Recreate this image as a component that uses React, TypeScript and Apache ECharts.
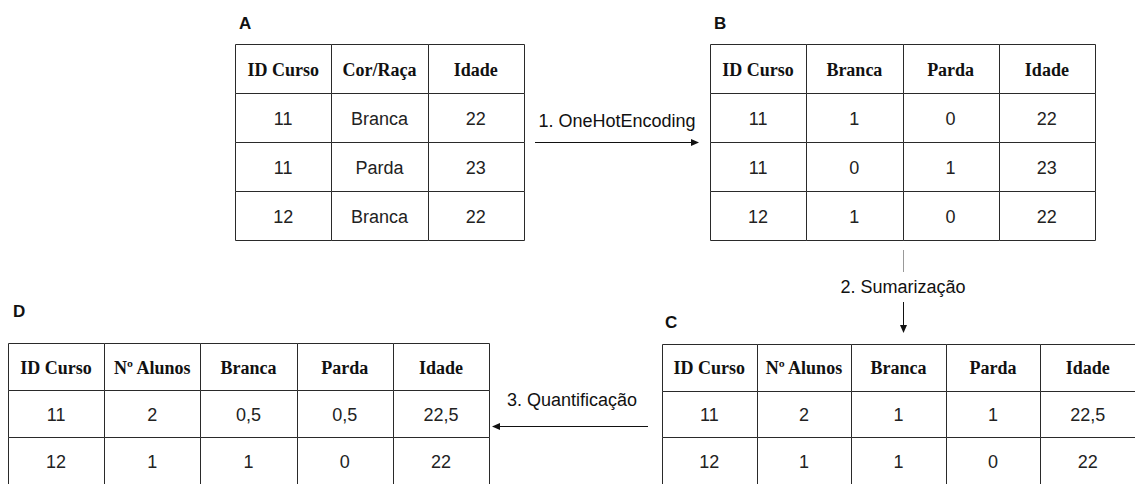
import React, { useEffect, useRef } from "react";
import * as echarts from "echarts";

// ---- data ----
const tableAHeaders = ["ID Curso", "Cor/Raça", "Idade"];
const tableARows = [
  ["11", "Branca", "22"],
  ["11", "Parda", "23"],
  ["12", "Branca", "22"],
];
const tableBHeaders = ["ID Curso", "Branca", "Parda", "Idade"];
const tableBRows = [
  ["11", "1", "0", "22"],
  ["11", "0", "1", "23"],
  ["12", "1", "0", "22"],
];
const tableCHeaders = ["ID Curso", "Nº Alunos", "Branca", "Parda", "Idade"];
const tableCRows = [
  ["11", "2", "1", "1", "22,5"],
  ["12", "1", "1", "0", "22"],
];
const tableDHeaders = ["ID Curso", "Nº Alunos", "Branca", "Parda", "Idade"];
const tableDRows = [
  ["11", "2", "0,5", "0,5", "22,5"],
  ["12", "1", "1", "0", "22"],
];
const tableLabels = ["A", "B", "C", "D"];
const stepLabels = ["1. OneHotEncoding", "2. Sumarização", "3. Quantificação"];

const SANS = "'Liberation Sans', Arial, sans-serif";
const SERIF = "'Liberation Serif', 'Times New Roman', serif";

type Cell = { value: [number, number]; text: string; header: boolean };

function buildCells(headers: string[], rows: string[][]): Cell[] {
  const cells: Cell[] = [];
  headers.forEach((h, c) => cells.push({ value: [c, 0], text: h, header: true }));
  rows.forEach((r, ri) =>
    r.forEach((t, c) => cells.push({ value: [c, ri + 1], text: t, header: false }))
  );
  return cells;
}

const tables = [
  { headers: tableAHeaders, rows: tableARows, grid: { left: 235, top: 44, width: 289, height: 196 } },
  { headers: tableBHeaders, rows: tableBRows, grid: { left: 710, top: 44, width: 385, height: 196 } },
  { headers: tableCHeaders, rows: tableCRows, grid: { left: 662, top: 344, width: 481, height: 144 } },
  { headers: tableDHeaders, rows: tableDRows, grid: { left: 8, top: 343, width: 481, height: 144 } },
];

export default function App() {
  const ref = useRef<HTMLDivElement>(null);
  useEffect(() => {
    if (!ref.current) return;
    const chart = echarts.init(ref.current, null, { renderer: "svg" });

    const grids: any[] = [];
    const xAxes: any[] = [];
    const yAxes: any[] = [];
    const series: any[] = [];

    tables.forEach((t, i) => {
      const cells = buildCells(t.headers, t.rows);
      grids.push({ ...t.grid, containLabel: false });
      xAxes.push({
        type: "value",
        gridIndex: i,
        min: -0.5,
        max: t.headers.length - 0.5,
        show: false,
      });
      yAxes.push({
        type: "value",
        gridIndex: i,
        min: -0.5,
        max: t.rows.length + 0.5,
        inverse: true,
        show: false,
      });
      series.push({
        type: "custom",
        xAxisIndex: i,
        yAxisIndex: i,
        clip: false,
        data: cells.map((c) => ({ value: c.value })),
        renderItem: (params: any, api: any) => {
          const cell = cells[params.dataIndex];
          const col = api.value(0);
          const row = api.value(1);
          const c = api.coord([col, row]);
          const tl = api.coord([col - 0.5, row - 0.5]);
          const br = api.coord([col + 0.5, row + 0.5]);
          const x0 = Math.round(tl[0]) + 0.5;
          const y0 = Math.round(tl[1]) + 0.5;
          const x1 = Math.round(br[0]) + 0.5;
          const y1 = Math.round(br[1]) + 0.5;
          return {
            type: "group",
            children: [
              {
                type: "rect",
                shape: { x: x0, y: y0, width: x1 - x0, height: y1 - y0 },
                style: { fill: "#ffffff", stroke: "#2a2a2a", lineWidth: 1 },
              },
              {
                type: "text",
                style: {
                  text: cell.text,
                  x: c[0],
                  y: c[1] + 1,
                  align: "center",
                  verticalAlign: "middle",
                  fill: cell.header ? "#111" : "#222",
                  font: cell.header ? `bold 18px ${SERIF}` : `18px ${SANS}`,
                },
              },
            ],
          };
        },
      });
    });

    const arrowColor = "#111";
    const labelFont = `bold 17px ${SANS}`;
    const stepFont = `18px ${SANS}`;
    const graphic: any[] = [
      // table labels
      { type: "text", x: 239, y: 23, style: { text: tableLabels[0], font: labelFont, fill: "#111", verticalAlign: "middle" } },
      { type: "text", x: 714, y: 23, style: { text: tableLabels[1], font: labelFont, fill: "#111", verticalAlign: "middle" } },
      { type: "text", x: 665, y: 322, style: { text: tableLabels[2], font: labelFont, fill: "#111", verticalAlign: "middle" } },
      { type: "text", x: 13, y: 311, style: { text: tableLabels[3], font: labelFont, fill: "#111", verticalAlign: "middle" } },
      // step 1
      { type: "text", x: 617, y: 121, style: { text: stepLabels[0], font: stepFont, fill: "#111", align: "center", verticalAlign: "middle" } },
      { type: "line", shape: { x1: 535, y1: 142.5, x2: 693, y2: 142.5 }, style: { stroke: arrowColor, lineWidth: 1 } },
      { type: "polygon", shape: { points: [[699, 142.5], [691, 139], [691, 146]] }, style: { fill: arrowColor } },
      // step 2
      { type: "line", shape: { x1: 903.5, y1: 250, x2: 903.5, y2: 272 }, style: { stroke: "#999", lineWidth: 1 } },
      { type: "text", x: 903, y: 287, style: { text: stepLabels[1], font: stepFont, fill: "#111", align: "center", verticalAlign: "middle" } },
      { type: "line", shape: { x1: 903.5, y1: 302, x2: 903.5, y2: 327 }, style: { stroke: arrowColor, lineWidth: 1 } },
      { type: "polygon", shape: { points: [[903.5, 333], [900, 325], [907, 325]] }, style: { fill: arrowColor } },
      // step 3
      { type: "text", x: 572, y: 400, style: { text: stepLabels[2], font: stepFont, fill: "#111", align: "center", verticalAlign: "middle" } },
      { type: "line", shape: { x1: 648, y1: 426.5, x2: 498, y2: 426.5 }, style: { stroke: arrowColor, lineWidth: 1 } },
      { type: "polygon", shape: { points: [[492, 426.5], [500, 423], [500, 430]] }, style: { fill: arrowColor } },
    ];

    chart.setOption({
      animation: false,
      backgroundColor: "#ffffff",
      grid: grids,
      xAxis: xAxes,
      yAxis: yAxes,
      series,
      graphic,
    });
    return () => chart.dispose();
  }, []);

  return (
    <div
      ref={ref}
      style={{ position: "fixed", left: 0, top: 0, width: 1135, height: 484 }}
    />
  );
}
